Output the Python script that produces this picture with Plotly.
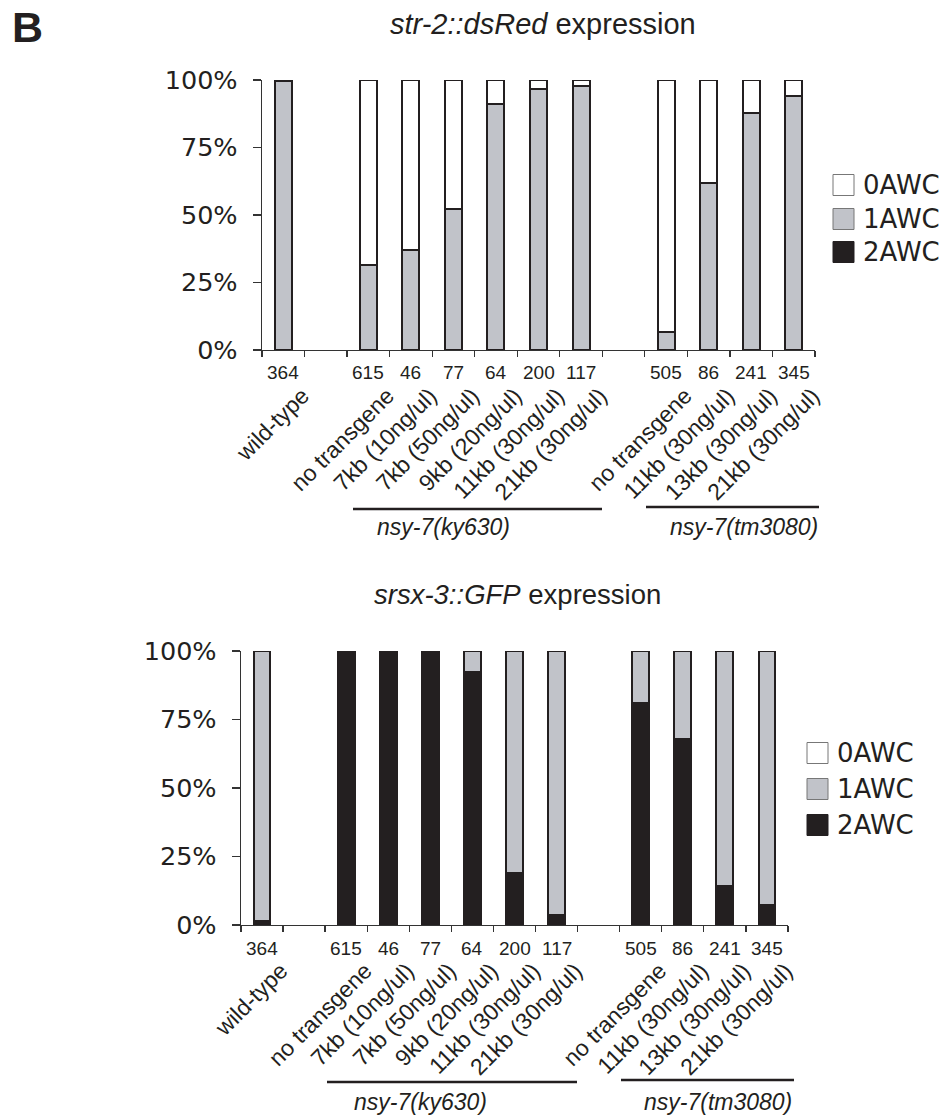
import plotly.graph_objects as go

W, H = 945, 1118

# ---------------- data ----------------
labels = ["wild-type", "", "no transgene", "7kb (10ng/ul)", "7kb (50ng/ul)",
          "9kb (20ng/ul)", "11kb (30ng/ul)", "21kb (30ng/ul)", "",
          "no transgene", "11kb (30ng/ul)", "13kb (30ng/ul)", "21kb (30ng/ul)"]
counts = ["364", "", "615", "46", "77", "64", "200", "117", "",
          "505", "86", "241", "345"]

# str-2::dsRed expression (percent of animals)
top_2awc = [0, None, 0, 0, 0, 0, 0, 0, None, 0, 0, 0, 0]
top_1awc = [99.5, None, 31.3, 37.1, 52.1, 91.0, 96.8, 97.8, None, 6.7, 61.8, 87.9, 94.2]
top_0awc = [0.5, None, 68.7, 62.9, 47.9, 9.0, 3.2, 2.2, None, 93.3, 38.2, 12.1, 5.8]

# srsx-3::GFP expression (percent of animals)
bot_2awc = [1.5, None, 99.6, 100, 100, 92.5, 18.9, 3.6, None, 81.1, 68.0, 14.2, 7.2]
bot_1awc = [98.5, None, 0.4, 0, 0, 7.5, 81.1, 96.4, None, 18.9, 32.0, 85.8, 92.8]
bot_0awc = [0, None, 0, 0, 0, 0, 0, 0, None, 0, 0, 0, 0]

series_names = ["0AWC", "1AWC", "2AWC"]
series_colors = {"0AWC": "#ffffff", "1AWC": "#c1c3c9", "2AWC": "#231f20"}

titles = ["<i>str-2::dsRed</i> expression", "<i>srsx-3::GFP</i> expression"]
groups = ["nsy-7(ky630)", "nsy-7(tm3080)"]
y_ticks = [0, 25, 50, 75, 100]
y_ticktext = ["0%", "25%", "50%", "75%", "100%"]

# ---------------- layout helpers ----------------
DARK = "#231f20"
ARIAL = "Liberation Sans, Arial, sans-serif"
VERD = "DejaVu Sans, Verdana, sans-serif"
LABEL_SHIFT = 0.45   # rotated category labels sit slightly right of bar centre


def px_x(p):
    return p / W


def px_y(p):
    return 1 - p / H


xpos = [i + 0.5 for i in range(len(labels))]
label_pos = [v + LABEL_SHIFT for v in xpos]

fig = go.Figure()

panels = [
    dict(xa="x", ya="y",
         data={"2AWC": top_2awc, "1AWC": top_1awc, "0AWC": top_0awc}),
    dict(xa="x2", ya="y2",
         data={"2AWC": bot_2awc, "1AWC": bot_1awc, "0AWC": bot_0awc}),
]

for p in panels:
    for name in ["2AWC", "1AWC", "0AWC"]:
        fig.add_trace(go.Bar(
            x=xpos, y=p["data"][name], name=name, xaxis=p["xa"], yaxis=p["ya"],
            width=0.4, marker=dict(color=series_colors[name],
                                   line=dict(color=DARK, width=2)),
            showlegend=False))

axis_common_x = dict(
    range=[0, len(labels)], showgrid=False, zeroline=False,
    showline=True, linecolor="#333333", linewidth=1.3,
    tickmode="array", tickvals=label_pos, ticktext=labels, ticks="",
    tickangle=-45, ticklabelstandoff=22,
    tickfont=dict(family=ARIAL, size=23, color=DARK),
    minor=dict(tickmode="array", tickvals=list(range(len(labels) + 1)),
               ticks="outside", ticklen=6, tickcolor="#333333", tickwidth=1.3),
)
axis_common_y = dict(
    range=[0, 100], showgrid=False, zeroline=False,
    showline=True, linecolor="#333333", linewidth=1.3,
    tickmode="array", tickvals=y_ticks, ticktext=y_ticktext,
    ticks="outside", ticklen=8, tickcolor="#333333", tickwidth=1.3,
    ticklabelstandoff=10,
    tickfont=dict(family=VERD, size=25.5, color=DARK),
)

fig.update_layout(
    xaxis=dict(domain=[px_x(262), px_x(815)], anchor="y", **axis_common_x),
    yaxis=dict(domain=[px_y(350), px_y(80)], anchor="x", **axis_common_y),
    xaxis2=dict(domain=[px_x(241), px_x(788)], anchor="y2", **axis_common_x),
    yaxis2=dict(domain=[px_y(925), px_y(651)], anchor="x2", **axis_common_y),
    barmode="stack",
    width=W, height=H,
    margin=dict(l=0, r=0, t=0, b=0, autoexpand=False),
    paper_bgcolor="white", plot_bgcolor="white",
    showlegend=False,
)

annotations = []
shapes = []

# counts under bars
for p in panels:
    yr = p["ya"] + " domain"
    for xv, c in zip(xpos, counts):
        if c:
            annotations.append(dict(
                x=xv, y=0, xref=p["xa"], yref=yr, yshift=-23,
                text=c, showarrow=False, xanchor="center", yanchor="middle",
                font=dict(family=ARIAL, size=19, color=DARK)))

# panel titles
annotations.append(dict(x=px_x(698), y=px_y(24), xref="paper", yref="paper",
                        text=titles[0], showarrow=False, xanchor="right", yanchor="middle",
                        font=dict(family=ARIAL, size=29, color=DARK)))
annotations.append(dict(x=px_x(663), y=px_y(594), xref="paper", yref="paper",
                        text=titles[1], showarrow=False, xanchor="right", yanchor="middle",
                        font=dict(family=ARIAL, size=27.5, color=DARK)))
# panel letter
annotations.append(dict(x=px_x(10), y=px_y(27), xref="paper", yref="paper",
                        text="<b>B</b>", showarrow=False, xanchor="left", yanchor="middle",
                        font=dict(family=ARIAL, size=43, color=DARK)))

# group underlines and labels
group_geo = [
    [(353, 602, 509, 443, 527), (646, 819, 507, 744, 527)],
    [(327, 577, 1082, 420, 1102), (621, 794, 1080, 718, 1102)],
]
for items in group_geo:
    for g, (x0, x1, yl, xc, yt) in zip(groups, items):
        shapes.append(dict(type="line", xref="paper", yref="paper",
                           x0=px_x(x0), x1=px_x(x1), y0=px_y(yl), y1=px_y(yl),
                           line=dict(color=DARK, width=2.5)))
        annotations.append(dict(x=px_x(xc), y=px_y(yt), xref="paper", yref="paper",
                                text="<i>" + g + "</i>", showarrow=False,
                                xanchor="center", yanchor="middle",
                                font=dict(family=ARIAL, size=23, color=DARK)))

# legends (drawn as swatches + text)
legend_geo = [
    (833, [185, 219, 252]),
    (807, [753, 789, 825]),
]
for x0, rows in legend_geo:
    for name, yc in zip(series_names, rows):
        col = series_colors[name]
        shapes.append(dict(type="rect", xref="paper", yref="paper",
                           x0=px_x(x0), x1=px_x(x0 + 21),
                           y0=px_y(yc + 10.5), y1=px_y(yc - 10.5),
                           fillcolor=col,
                           line=dict(color="#777777" if name != "2AWC" else DARK, width=1)))
        annotations.append(dict(x=px_x(x0 + 28), y=px_y(yc), xref="paper", yref="paper",
                                text=name, showarrow=False, xanchor="left", yanchor="middle",
                                font=dict(family=VERD, size=26, color=DARK)))

fig.update_layout(annotations=annotations, shapes=shapes)

fig.write_html("out.html",
               config={"displayModeBar": False, "staticPlot": True},
               post_script="document.body.style.margin='0';document.body.style.overflow='hidden';")
